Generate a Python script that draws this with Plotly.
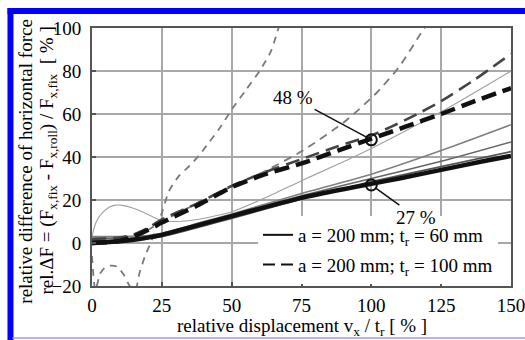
import plotly.graph_objects as go

# ---------------- data ----------------
x_ticks = [0, 25, 50, 75, 100, 125, 150]
y_ticks = [-20, 0, 20, 40, 60, 80, 100]

# solid lines (a = 200 mm; t_r = 60 mm)
s_main_x = [0, 5, 10, 15, 20, 25, 30, 40, 50, 60, 75, 90, 100, 110, 125, 140, 150]
s_main_y = [0, 0.3, 0.8, 1.5, 2.5, 3.8, 5.5, 9, 12.5, 16, 21, 25, 27.5, 30, 34, 38, 40.5]

s_a_x = [0, 10, 20, 25, 40, 50, 75, 100, 125, 150]
s_a_y = [3, 3, 3.5, 4.5, 10, 13.5, 23, 32, 43, 55]

s_b_x = [0, 10, 20, 25, 40, 50, 75, 100, 125, 150]
s_b_y = [2, 2, 3, 4, 9.5, 13, 22, 30, 38, 47]

s_c_x = [0, 10, 20, 25, 40, 50, 75, 100, 125, 150]
s_c_y = [1, 1.2, 2.2, 3, 8, 11.5, 20.5, 28.5, 35.5, 42.5]

s_thin_x = [0, 1, 2, 4, 6, 8, 11, 14, 18, 22, 25, 30, 35, 42, 50, 62, 75, 87, 100, 112, 125, 137, 150]
s_thin_y = [3, 8, 11, 14.5, 16.5, 17.5, 17.5, 16.5, 14.5, 12, 10.5, 10, 10.5, 12, 14.5, 21, 29, 36, 44, 52, 61, 70, 80]

# dashed lines (a = 200 mm; t_r = 100 mm)
d_main_x = [0, 5, 10, 15, 20, 25, 37, 50, 62, 75, 88, 100, 112, 125, 137, 150]
d_main_y = [0, 0.3, 1, 3, 6, 9.5, 17, 26, 32, 37, 43, 48.5, 54, 60, 66, 72]

d_mid_x = [0, 10, 15, 20, 25, 37, 50, 62, 75, 88, 100, 107, 115, 125, 137, 150]
d_mid_y = [2, 2.5, 4, 7, 11, 18, 26.5, 33, 39, 45, 50, 54, 59, 66, 76, 88]

d_steep_x = [0, 10, 15, 20, 25, 37, 49, 62, 75.5, 91, 102, 110, 117, 120]
d_steep_y = [2, 2.5, 3.5, 6, 10, 18, 25.6, 33.5, 43, 57, 70, 82, 96, 102]

d_vsteep_x = [0, 1.2, 3, 5, 7, 9, 11.5, 13.5, 15.5, 17, 19, 21, 23, 25, 27.5, 31, 35, 38.5, 42, 46, 50, 55, 60, 64, 67]
d_vsteep_y = [-6, -22, -14, -11, -10.5, -11, -15, -20, -22, -14, -6, 0, 7, 14, 24, 31, 36, 41, 47, 54, 62, 71, 80, 89, 101]

mark_x = [100, 100]
mark_y = [48, 27]
mark_labels = ["48 %", "27 %"]
label_pos_x = [72, 116]
label_pos_y = [67.5, 12]

legend_names = ["a = 200 mm; t<sub>r</sub> = 60 mm", "a = 200 mm; t<sub>r</sub> = 100 mm"]

FONT = "Liberation Serif"
FS = 19
TXT = "#000000"

fig = go.Figure()

def add(x, y, color, width, dash="solid"):
    fig.add_trace(go.Scatter(x=x, y=y, mode="lines", showlegend=False,
                             line=dict(color=color, width=width, dash=dash, shape="spline", smoothing=0.6),
                             hoverinfo="skip"))

# gray lines first
add(d_vsteep_x, d_vsteep_y, "#7a7a7a", 1.8, "7px,6px")
add(d_steep_x, d_steep_y, "#7a7a7a", 1.8, "8px,6px")
add(s_thin_x, s_thin_y, "#a0a0a0", 1.1)
add(s_a_x, s_a_y, "#808080", 1.6)
add(s_b_x, s_b_y, "#666666", 1.6)
add(s_c_x, s_c_y, "#555555", 1.8)
add(d_mid_x, d_mid_y, "#444444", 2.6, "14px,7px")
# thick black
add(s_main_x, s_main_y, "#111111", 4.5)
add(d_main_x, d_main_y, "#111111", 4.5, "15px,7px")

# markers
fig.add_trace(go.Scatter(x=mark_x, y=mark_y, mode="markers", showlegend=False,
                         marker=dict(symbol="circle-open", size=11, color="#111111",
                                     line=dict(width=2, color="#111111")),
                         hoverinfo="skip"))

# legend entries
for i, (nm, dsh) in enumerate(zip(legend_names, ["solid", "12px,6px"])):
    fig.add_trace(go.Scatter(x=[None], y=[None], mode="lines", name=nm,
                             legendgroup="g%d" % i,
                             line=dict(color="#111111", width=2, dash=dsh)))

# annotations for percent labels
for lx, ly, mx, my, t in zip(label_pos_x, label_pos_y, mark_x, mark_y, mark_labels):
    fig.add_annotation(x=mx, y=my, ax=lx, ay=ly, axref="x", ayref="y", xref="x", yref="y",
                       text=t, showarrow=True, arrowhead=0, arrowwidth=1.5, arrowcolor="#111111",
                       standoff=5, font=dict(family=FONT, size=FS, color=TXT))

# axis titles
fig.add_annotation(xref="paper", yref="paper", x=0.5, y=-0.158, xanchor="center", yanchor="middle",
                   text="relative displacement v<sub>x</sub> / t<sub>r</sub> [ % ]", showarrow=False,
                   font=dict(family=FONT, size=FS, color=TXT))
fig.add_annotation(xref="paper", yref="paper", x=-0.158, y=0.485, xanchor="center", yanchor="middle",
                   textangle=-90, text="relative difference of horizontal force", showarrow=False,
                   font=dict(family=FONT, size=FS, color=TXT))
fig.add_annotation(xref="paper", yref="paper", x=-0.106, y=0.485, xanchor="center", yanchor="middle",
                   textangle=-90,
                   text="rel.ΔF = (F<sub>x,fix</sub> - F<sub>x,roll</sub>) / F<sub>x,fix</sub>  [ % ]",
                   showarrow=False, font=dict(family=FONT, size=FS, color=TXT))

# blue frame of the picture
fig.add_shape(type="rect", xref="paper", yref="paper", x0=-0.2017, x1=1.06, y0=1.0543, y1=1.0775,
              fillcolor="#0000ff", line=dict(width=0), layer="above")
fig.add_shape(type="rect", xref="paper", yref="paper", x0=-0.2017, x1=-0.1874, y0=-0.22, y1=1.0775,
              fillcolor="#0000ff", line=dict(width=0), layer="above")
fig.add_shape(type="line", xref="paper", yref="paper", x0=-0.19, x1=1.06, y0=-0.2015, y1=-0.2015,
              line=dict(color="#9a9aff", width=1.5), layer="above")

axis_common = dict(showgrid=True, gridcolor="#a8a8a8", gridwidth=1.5, zeroline=False,
                   showline=True, mirror=True, linecolor="#555555", linewidth=2,
                   ticks="inside", ticklen=4, tickcolor="#555555", tickwidth=1.5,
                   ticklabeloverflow="allow",
                   tickfont=dict(family=FONT, size=FS, color=TXT))

fig.update_xaxes(range=[0, 150], tickvals=x_ticks, ticklabelstandoff=1, **axis_common)
fig.update_yaxes(range=[-20, 100], tickvals=y_ticks, ticklabelstandoff=5, **axis_common)

fig.update_layout(
    width=525, height=340,
    margin=dict(l=92, r=14, t=28, b=54, autoexpand=False),
    paper_bgcolor="white", plot_bgcolor="white",
    font=dict(family=FONT, size=FS, color=TXT),
    legend=dict(x=(258 - 92) / 419, y=(286 - 216) / 258, xanchor="left", yanchor="top",
                bgcolor="white", borderwidth=0, tracegroupgap=2,
                font=dict(family=FONT, size=FS, color=TXT)),
    showlegend=True,
)

fig.write_html("out.html")
